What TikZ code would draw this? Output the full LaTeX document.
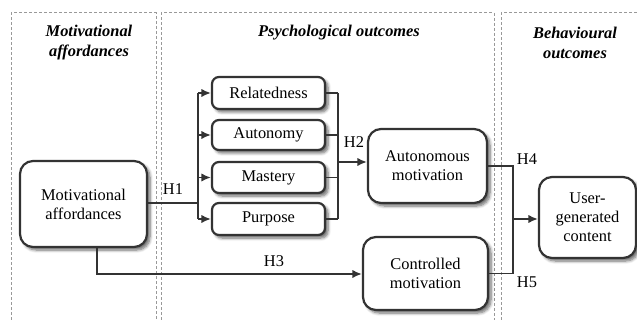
\documentclass[tikz,border=0pt]{standalone}
\usepackage{fontspec}
\setmainfont{Liberation Serif}
\usetikzlibrary{arrows.meta,shadows.blur,calc}
\definecolor{ink}{HTML}{333333}
\tikzset{
  box/.style={draw=ink, line width=1.1pt, rounded corners=3.5pt, fill=white, align=center,
    inner sep=0pt, blur shadow={shadow xshift=1.5pt, shadow yshift=-1.5pt, shadow blur steps=6, shadow blur radius=1.5pt, shadow opacity=60},
    font=\fontsize{8.2}{9.5}\selectfont},
  bigbox/.style={box, rounded corners=6.5pt},
  conn/.style={draw=ink, line width=0.8pt},
  arr/.style={conn, -{Latex[length=4.8pt,width=4.2pt]}},
  panel/.style={draw=gray!80, line width=0.5pt, dash pattern=on 1.5pt off 1pt},
  title/.style={font=\fontsize{8.2}{10}\selectfont\bfseries\itshape, align=center},
  hlab/.style={font=\fontsize{8.2}{9.5}\selectfont, inner sep=0pt},
}
\begin{document}
\begin{tikzpicture}[x=0.5pt,y=-0.5pt]
\useasboundingbox (0,0) rectangle (637,320);
% panels
\draw[panel] (11,330) -- (11,13) -- (156,13) -- (156,330);
\draw[panel] (161,330) -- (161,13) -- (494,13) -- (494,330);
\draw[panel] (501,330) -- (501,13) -- (650,13);
% titles
\node[title] (t1) at (89,43) {Motivational\\affordances};
\node[title] (t2) at (339,33) {Psychological outcomes};
\node[title] (t3) at (575,43) {Behavioural\\outcomes};
% nodes
\node[bigbox, minimum width=63.5pt, minimum height=43pt] (ma) at (83.5,204) {Motivational\\affordances};
\node[box, minimum width=56.5pt, minimum height=16pt] (rel) at (268.5,93) {Relatedness};
\node[box, minimum width=56.5pt, minimum height=15pt] (aut) at (268.5,135) {Autonomy};
\node[box, minimum width=56.5pt, minimum height=15.5pt] (mas) at (268.5,177.5) {Mastery};
\node[box, minimum width=56.5pt, minimum height=16pt] (pur) at (268.5,219) {Purpose};
\node[bigbox, minimum width=59.5pt, minimum height=37pt] (am) at (427.5,166) {Autonomous\\motivation};
\node[bigbox, minimum width=62.5pt, minimum height=36.5pt] (cm) at (425.5,273.5) {Controlled\\motivation};
\node[bigbox, minimum width=48.5pt, minimum height=40.5pt] (ugc) at (587.5,217.5) {User-\\generated\\content};
% H1
\coordinate (b1) at (198,203);
\coordinate (b1t) at (198,93);
\coordinate (b1b) at (198,219);
\draw[conn] (ma.east |- b1) -- (b1);
\draw[conn] (b1t) -- (b1b);
\draw[arr] (b1t) -- (rel.west);
\draw[arr] (198,135) -- (aut.west);
\draw[arr] (198,177.5) -- (mas.west);
\draw[arr] (b1b) -- (pur.west);
\node[hlab] (h1) at (173,189) {H1};
% H2
\coordinate (b2t) at (338,93);
\coordinate (b2b) at (338,219);
\coordinate (b2m) at (338,162);
\draw[conn] (rel.east) -- (b2t);
\draw[conn] (aut.east) -- (338,135);
\draw[conn] (mas.east) -- (338,177.5);
\draw[conn] (pur.east) -- (b2b);
\draw[conn] (b2t) -- (b2b);
\draw[arr] (b2m) -- (am.west |- b2m);
\node[hlab] (h2) at (354,142) {H2};
% H3
\coordinate (h3c) at (97,274);
\draw[arr] (97,247) -- (h3c) -- (cm.west |- h3c);
\node[hlab] (h3) at (274,261) {H3};
% H4 / H5
\coordinate (b3t) at (513,166);
\coordinate (b3b) at (513,273.5);
\coordinate (b3m) at (513,219);
\draw[conn] (am.east) -- (b3t) -- (b3b) -- (cm.east);
\draw[arr] (b3m) -- (ugc.west |- b3m);
\node[hlab] (h4) at (527,159) {H4};
\node[hlab] (h5) at (527,282) {H5};
\end{tikzpicture}
\end{document}
